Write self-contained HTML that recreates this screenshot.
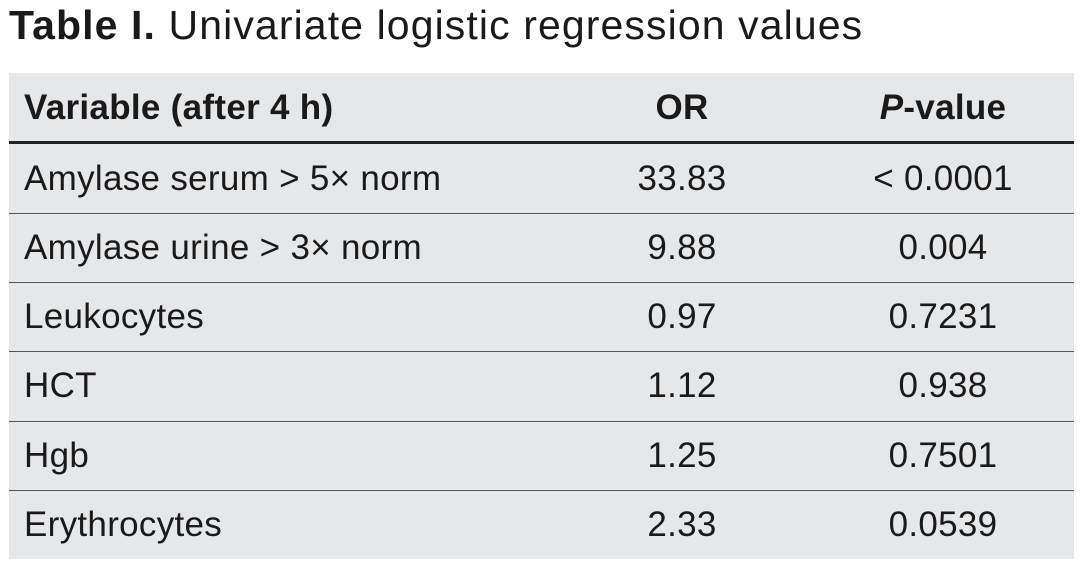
<!DOCTYPE html>
<html><head><meta charset="utf-8"><style>
body{margin:0;width:1080px;height:568px;background:#fff;font-family:"Liberation Sans",sans-serif;color:#1a1a1a;position:relative;overflow:hidden}
.t{position:absolute;left:9px;top:1px;font-size:41px;line-height:48px;letter-spacing:1.1px}
.box{position:absolute;left:9px;top:73px;width:1065px;height:486px;background:#e6e7e9}
.row{position:absolute;left:0;width:1065px;height:69px;font-size:35px;line-height:69px;letter-spacing:0.3px}
.row span{position:absolute;white-space:nowrap}
.a{left:15px}.b{left:573px;width:200px;text-align:center}.c{left:834px;width:200px;text-align:center}
.ln{position:absolute;left:0;width:1065px;height:1px;background:#555}
</style></head><body>
<div class="t"><b>Table I.</b> Univariate logistic regression values</div>
<div class="box">
<div class="row" style="top:0;font-weight:bold"><span class="a">Variable (after 4 h)</span><span class="b">OR</span><span class="c"><i>P</i>-value</span></div>
<div class="ln" style="top:68px;height:3px;background:#222"></div>
<div class="row" style="top:71px"><span class="a">Amylase serum &gt; 5× norm</span><span class="b">33.83</span><span class="c">&lt; 0.0001</span></div>
<div class="ln" style="top:140px"></div>
<div class="row" style="top:140px"><span class="a">Amylase urine &gt; 3× norm</span><span class="b">9.88</span><span class="c">0.004</span></div>
<div class="ln" style="top:209px"></div>
<div class="row" style="top:209px"><span class="a">Leukocytes</span><span class="b">0.97</span><span class="c">0.7231</span></div>
<div class="ln" style="top:278px"></div>
<div class="row" style="top:278px"><span class="a">HCT</span><span class="b">1.12</span><span class="c">0.938</span></div>
<div class="ln" style="top:348px"></div>
<div class="row" style="top:348px"><span class="a">Hgb</span><span class="b">1.25</span><span class="c">0.7501</span></div>
<div class="ln" style="top:417px"></div>
<div class="row" style="top:417px"><span class="a">Erythrocytes</span><span class="b">2.33</span><span class="c">0.0539</span></div>
</div>
</body></html>
